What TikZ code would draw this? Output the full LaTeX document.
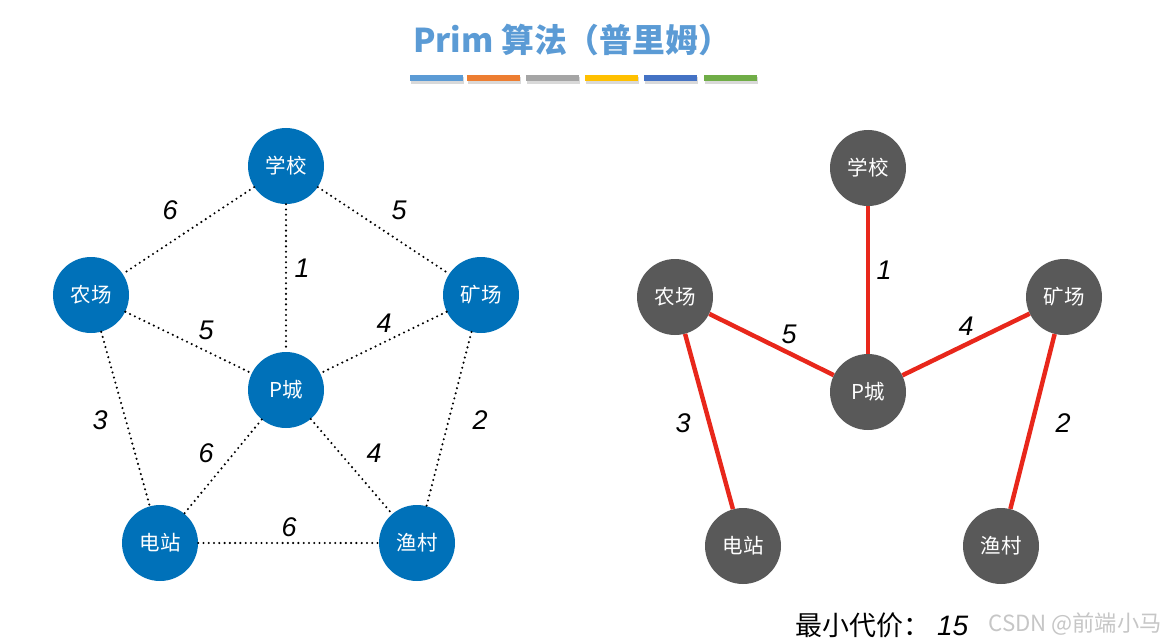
\documentclass[tikz,border=0pt]{standalone}
\usepackage{fontspec}
\newfontfamily\cjk{Noto Sans CJK SC}
\newfontfamily\numf{Liberation Sans}
\definecolor{titleblue}{HTML}{5B9BD5}
\definecolor{cityblue}{HTML}{0071B9}
\definecolor{treegray}{HTML}{595959}
\definecolor{pickred}{HTML}{E8271B}
\definecolor{barA}{HTML}{5B9BD5}
\definecolor{barB}{HTML}{ED7D31}
\definecolor{barC}{HTML}{A5A5A5}
\definecolor{barD}{HTML}{FFC000}
\definecolor{barE}{HTML}{4472C4}
\definecolor{barF}{HTML}{70AD47}

\begin{document}
\begin{tikzpicture}[x=0.03cm, y=-0.03cm,
    city/.style={circle, fill=cityblue, minimum size=2.28cm, inner sep=0pt,
      text=white, font=\cjk\fontsize{17.5}{17.5}\selectfont},
    tree/.style={city, fill=treegray},
    road/.style={line width=2pt, dash pattern=on 0pt off 4.5pt, line cap=round},
    pick/.style={line width=3.8pt, draw=pickred},
    cost/.style={font=\numf\itshape\fontsize{23}{23}\selectfont, inner sep=0pt}]
    \useasboundingbox (0,0) rectangle (1167,643);

    % Title and colour bar
    \node[text=titleblue, font=\cjk\bfseries\fontsize{28}{28}\selectfont] (title) at (572,40) {Prim 算法（普里姆）};
    \foreach \x/\c in {410/barA,467/barB,526/barC,585/barD,644/barE,704/barF} {
        \fill[gray!30] (\x+1,77) rectangle (\x+54,84);
        \fill[\c] (\x,75) rectangle (\x+53,81);
    }

    % Left graph: all roads
    \node[city] (lxx) at (286,166) {学校};
    \node[city] (lnc) at (91,295) {农场};
    \node[city] (lkc) at (481,295) {矿场};
    \node[city] (lpc) at (286,390) {P城};
    \node[city] (ldz) at (160,543) {电站};
    \node[city] (lyc) at (417,543) {渔村};

    \draw[road] (lxx) -- (lnc);
    \draw[road] (lxx) -- (lkc);
    \draw[road] (lxx) -- (lpc);
    \draw[road] (lnc) -- (lpc);
    \draw[road] (lkc) -- (lpc);
    \draw[road] (lnc) -- (ldz);
    \draw[road] (lkc) -- (lyc);
    \draw[road] (lpc) -- (ldz);
    \draw[road] (lpc) -- (lyc);
    \draw[road] (ldz) -- (lyc);

    \node[cost] (l1) at (170,210) {6};
    \node[cost] (l2) at (399,210) {5};
    \node[cost] (l3) at (302,268) {1};
    \node[cost] (l4) at (206,330) {5};
    \node[cost] (l5) at (384,323) {4};
    \node[cost] (l6) at (100,420) {3};
    \node[cost] (l7) at (480,420) {2};
    \node[cost] (l8) at (206,453) {6};
    \node[cost] (l9) at (374,453) {4};
    \node[cost] (l10) at (289,527) {6};

    % Right graph: minimum spanning tree
    \node[tree] (rxx) at (868,168) {学校};
    \node[tree] (rnc) at (675,297) {农场};
    \node[tree] (rkc) at (1064,297) {矿场};
    \node[tree] (rpc) at (868,392) {P城};
    \node[tree] (rdz) at (743,546) {电站};
    \node[tree] (ryc) at (1001,546) {渔村};

    \draw[pick] (rxx) -- (rpc);
    \draw[pick] (rnc) -- (rpc);
    \draw[pick] (rkc) -- (rpc);
    \draw[pick] (rnc) -- (rdz);
    \draw[pick] (rkc) -- (ryc);

    \node[cost] (r1) at (884,270) {1};
    \node[cost] (r2) at (789,334) {5};
    \node[cost] (r3) at (966,326) {4};
    \node[cost] (r4) at (683,423) {3};
    \node[cost] (r5) at (1063,423) {2};

    % Total cost and watermark
    \node[anchor=west, inner sep=0pt] (total) at (795,625)
        {{\cjk\fontsize{23}{23}\selectfont 最小代价：}\hspace{6pt}{\numf\itshape\fontsize{24}{24}\selectfont 15}};
    \node[anchor=east, inner sep=0pt, text=gray!45, font=\cjk\fontsize{19}{19}\selectfont] (mark) at (1162,624) {CSDN @前端小马};
\end{tikzpicture}
\end{document}
